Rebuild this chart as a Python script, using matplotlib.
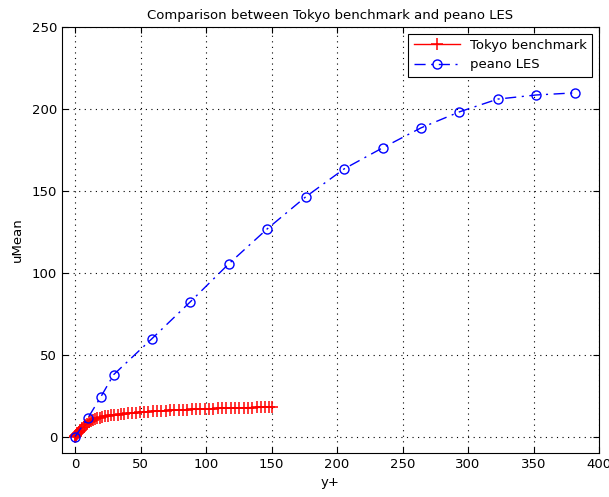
import matplotlib
matplotlib.use("Agg")
import matplotlib.pyplot as plt

# Tokyo DNS benchmark: mean streamwise velocity profile
tokyo_yplus = [0, 0.2, 0.5, 0.9, 1.4, 2.0, 2.7, 3.5, 4.4, 5.4, 6.5, 7.7, 9.0, 10.4,
               11.9, 13.5, 15.2, 17.0, 18.9, 20.9, 23.0, 25.2, 27.5, 29.9, 32.4, 35.0,
               37.7, 40.5, 43.4, 46.4, 49.5, 52.7, 56.0, 59.3, 62.6, 65.9, 69.2, 72.5,
               75.8, 79.1, 82.4, 85.7, 89.0, 92.3, 95.6, 98.9, 102.2, 105.5, 108.8,
               112.1, 115.4, 118.7, 122.0, 125.3, 128.6, 131.9, 135.2, 138.5, 141.8,
               145.1, 148.4, 150.0]
tokyo_umean = [0, 0.2, 0.5, 0.9, 1.4, 2.0, 2.7, 3.45, 4.3, 5.2, 6.1, 7.0, 7.9, 8.7,
               9.4, 10.0, 10.6, 11.1, 11.5, 11.9, 12.3, 12.6, 12.9, 13.2, 13.5, 13.7,
               13.9, 14.2, 14.4, 14.6, 14.8, 15.0, 15.2, 15.4, 15.5, 15.7, 15.8, 16.0,
               16.1, 16.2, 16.4, 16.5, 16.6, 16.7, 16.8, 16.9, 17.0, 17.1, 17.2,
               17.3, 17.35, 17.4, 17.5, 17.55, 17.6, 17.7, 17.75, 17.8, 17.85,
               17.9, 17.95, 18.0]

# peano LES result
les_yplus = [0, 9.8, 19.6, 29.4, 58.7, 88.0, 117.4, 146.7, 176.0, 205.4, 234.7,
             264.0, 293.4, 322.7, 352.0, 381.4]
les_umean = [0, 11.4, 24.2, 37.8, 59.8, 82.3, 105.5, 126.8, 146.3, 163.4, 176.2,
             188.4, 198.2, 206.0, 208.5, 209.8]

x_ticks = [0, 50, 100, 150, 200, 250, 300, 350, 400]
y_ticks = [0, 50, 100, 150, 200, 250]

plt.rcParams['font.family'] = ['DejaVu Sans']

fig = plt.figure(figsize=(6.09, 4.97), dpi=100, facecolor='white')
ax = fig.add_axes([0.1018, 0.0885, 0.8818, 0.8572])

ax.plot(tokyo_yplus, tokyo_umean, color='red', linestyle='-', linewidth=1.0,
        marker='+', markersize=8.5, markeredgewidth=1.1, label='Tokyo benchmark')
ax.plot(les_yplus, les_umean, color='blue', linestyle=(0, (8, 4, 1.5, 4)),
        linewidth=1.0, marker='o', markersize=6.5, markerfacecolor='none',
        markeredgewidth=1.0, label='peano LES')

ax.set_xlim(-10, 400)
ax.set_ylim(-10, 250)
ax.set_xticks(x_ticks)
ax.set_yticks(y_ticks)
ax.tick_params(direction='in', top=True, right=True, labelsize=9.5, length=4,
               width=0.8)
ax.grid(True, color='black', linestyle=(0, (1, 4)), linewidth=0.8)
for s in ax.spines.values():
    s.set_linewidth(0.8)

ax.set_title('Comparison between Tokyo benchmark and peano LES', fontsize=9.5, pad=6)
ax.set_xlabel('y+', fontsize=9.5, labelpad=4)
ax.set_ylabel('uMean', fontsize=9.5, labelpad=6)

leg = ax.legend(loc='upper right', fontsize=9.5, fancybox=False, framealpha=1,
                edgecolor='black', borderaxespad=0.5, handlelength=3.5)
leg.get_frame().set_linewidth(0.8)

fig.savefig('out.png', dpi=100, facecolor='white')
